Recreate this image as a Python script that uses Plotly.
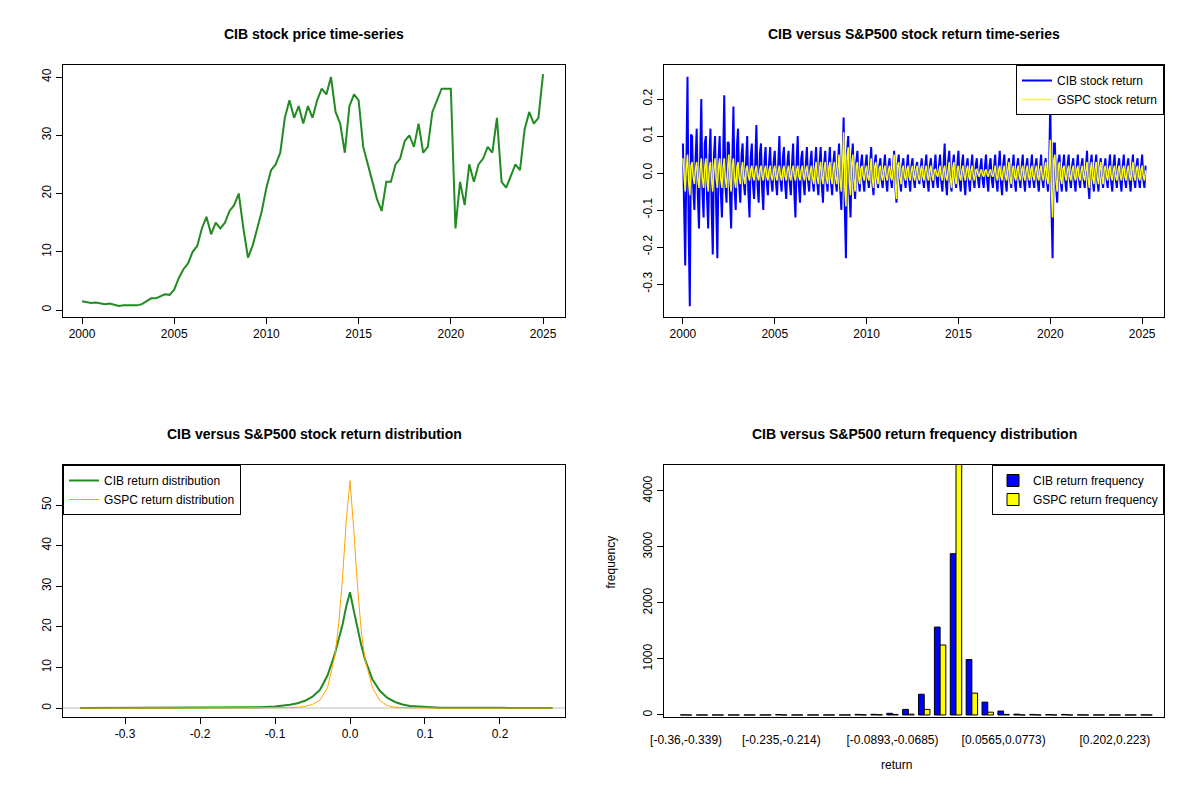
import plotly.graph_objects as go

# ---------- data ----------
years_q = [2000 + i * 0.25 for i in range(101)]
cib_price = [1.5,1.3,1.2,1.3, 1.2,1.0,1.1,0.9, 0.7,0.8,0.8,0.9, 0.8,1.0,1.5,2.0,
             2.0,2.3,2.7,2.6, 3.5,5.5,7.0,8.0, 10,11,14,16, 13,15,14,15,
             17,18,20,14, 9,11,14,17, 21,24,25,27, 33,36,33,35, 32,35,33,36,
             38,37,40,34, 32,27,35,37, 36,28,25,22, 19,17,22,22, 25,26,29,30,
             28,32,27,28, 34,36,38,38, 38,14,22,18, 25,22,25,26, 28,27,33,22,
             21,23,25,24, 31,34,32,33, 40.5]
# quarterly extremes of daily returns, 2000Q1 .. 2025Q1
cib_hi = [0.08,0.26,0.10,0.12,  0.20,0.10,0.12,0.10,  0.10,0.21,0.08,0.18,  0.12,0.08,0.10,0.08,
          0.13,0.08,0.07,0.07,  0.06,0.10,0.07,0.06,  0.08,0.10,0.06,0.07,  0.06,0.07,0.07,0.06,
          0.07,0.06,0.08,0.15,  0.10,0.08,0.06,0.05,  0.05,0.07,0.05,0.04,  0.05,0.04,0.06,0.05,
          0.04,0.05,0.04,0.03,  0.04,0.05,0.04,0.05,  0.05,0.08,0.06,0.05,  0.06,0.05,0.04,0.05,
          0.04,0.04,0.05,0.04,  0.05,0.06,0.05,0.04,  0.05,0.04,0.05,0.04,  0.05,0.04,0.05,0.04,
          0.20,0.08,0.05,0.05,
          0.05,0.04,0.05,0.04,  0.06,0.05,0.05,0.04,  0.04,0.05,0.05,0.04,  0.05,0.04,0.05,0.04,
          0.05]
cib_lo = [-0.25,-0.36,-0.10,-0.15,  -0.12,-0.15,-0.22,-0.23,  -0.12,-0.08,-0.15,-0.10,  -0.08,-0.06,-0.12,-0.07,
          -0.08,-0.10,-0.06,-0.05,  -0.06,-0.05,-0.07,-0.06,  -0.12,-0.08,-0.06,-0.05,  -0.05,-0.06,-0.08,-0.05,
          -0.06,-0.05,-0.10,-0.23,  -0.12,-0.07,-0.05,-0.05,  -0.04,-0.06,-0.04,-0.04,  -0.05,-0.04,-0.08,-0.05,
          -0.04,-0.05,-0.04,-0.03,  -0.04,-0.05,-0.04,-0.04,  -0.05,-0.06,-0.05,-0.04,  -0.05,-0.06,-0.05,-0.04,
          -0.04,-0.04,-0.05,-0.04,  -0.05,-0.06,-0.05,-0.04,  -0.05,-0.04,-0.05,-0.04,  -0.04,-0.05,-0.04,-0.05,
          -0.23,-0.08,-0.05,-0.05,
          -0.04,-0.05,-0.04,-0.04,  -0.07,-0.05,-0.05,-0.04,  -0.04,-0.05,-0.04,-0.05,  -0.04,-0.05,-0.04,-0.04,
          -0.04]
gspc_hi = [0.04,0.05,0.03,0.03,  0.04,0.04,0.03,0.04,  0.04,0.04,0.05,0.04,  0.03,0.03,0.02,0.02,
           0.02,0.02,0.02,0.02,  0.02,0.02,0.02,0.02,  0.02,0.02,0.02,0.02,  0.02,0.03,0.03,0.03,
           0.03,0.03,0.05,0.11,  0.07,0.05,0.03,0.02,  0.02,0.04,0.03,0.02,  0.02,0.02,0.05,0.03,
           0.02,0.02,0.02,0.02,  0.02,0.02,0.02,0.01,  0.02,0.02,0.03,0.03,  0.02,0.02,0.02,0.02,
           0.01,0.01,0.01,0.01,  0.02,0.02,0.02,0.03,  0.02,0.02,0.02,0.02,  0.02,0.02,0.02,0.03,
           0.09,0.05,0.03,0.02,
           0.02,0.02,0.02,0.02,  0.03,0.03,0.03,0.03,  0.02,0.02,0.02,0.02,  0.02,0.02,0.03,0.02,
           0.02]
gspc_lo = [-0.05,-0.06,-0.03,-0.04,  -0.04,-0.05,-0.05,-0.04,  -0.04,-0.04,-0.05,-0.04,  -0.03,-0.03,-0.02,-0.02,
           -0.02,-0.02,-0.02,-0.02,  -0.02,-0.02,-0.02,-0.02,  -0.02,-0.02,-0.02,-0.02,  -0.03,-0.03,-0.03,-0.03,
           -0.03,-0.03,-0.05,-0.09,  -0.06,-0.05,-0.03,-0.02,  -0.02,-0.04,-0.03,-0.02,  -0.02,-0.02,-0.07,-0.03,
           -0.02,-0.02,-0.02,-0.02,  -0.02,-0.02,-0.02,-0.01,  -0.02,-0.02,-0.04,-0.03,  -0.02,-0.02,-0.02,-0.02,
           -0.01,-0.01,-0.01,-0.01,  -0.02,-0.02,-0.02,-0.03,  -0.02,-0.02,-0.02,-0.02,  -0.02,-0.02,-0.02,-0.03,
           -0.12,-0.05,-0.03,-0.02,
           -0.02,-0.02,-0.02,-0.02,  -0.04,-0.03,-0.03,-0.03,  -0.02,-0.02,-0.02,-0.02,  -0.02,-0.02,-0.02,-0.02,
           -0.02]

dens_x = [-0.36,-0.2,-0.12,-0.1,-0.08,-0.07,-0.06,-0.05,-0.04,-0.03,-0.02,-0.015,-0.01,-0.005,0.0,
          0.005,0.01,0.015,0.02,0.03,0.04,0.05,0.06,0.07,0.08,0.1,0.12,0.2,0.27]
cib_dens = [0.0,0.05,0.2,0.4,0.8,1.2,1.8,2.8,4.5,8.0,13.5,17.0,20.5,25.0,28.5,
            24.0,19.5,15.5,12.0,7.0,4.2,2.5,1.5,0.9,0.5,0.3,0.1,0.05,0.0]
gspc_dens = [0.0,0.0,0.0,0.05,0.1,0.2,0.4,0.9,2.0,5.0,13.0,21.0,32.0,46.0,56.0,
             44.0,30.0,19.0,12.0,5.0,1.8,0.6,0.2,0.1,0.05,0.0,0.0,0.0,0.0]

hist_bin = list(range(30))
cib_freq = [2,0,0,0,0,0,8,0,0,0,0,10,12,30,100,370,1570,2880,990,230,70,15,10,8,10,2,0,0,0,2]
gspc_freq = [0,0,0,0,0,0,0,0,0,0,0,2,5,10,15,100,1250,4500,390,50,10,2,2,2,0,0,0,0,0,0]
hist_tickpos = [0, 6, 13, 20, 27]
hist_ticklabels = ["[-0.36,-0.339)", "[-0.235,-0.214)", "[-0.0893,-0.0685)", "[0.0565,0.0773)", "[0.202,0.223)"]

# ---------- figure ----------
OX, OY = 10, 9   # page offset of the rendered figure
def px(x): return (x - OX) / 1200
def py(y): return 1 - (y - OY) / 800

fig = go.Figure()
xd1, xd2 = [px(65), px(567)], [px(666), px(1166)]
yd_top, yd_bot = [py(318), py(66)], [py(718), py(466)]

fig.add_trace(go.Scatter(x=years_q, y=cib_price, mode="lines", line=dict(color="#228B22", width=2),
                         showlegend=False, xaxis="x", yaxis="y"))

def zig(xs, hi, lo):
    X, Y = [], []
    for t, h, l in zip(xs, hi, lo):
        X += [t, t + 0.06, t + 0.125, t + 0.19]
        Y += [h, l * 0.4, l, h * 0.4]
    return X, Y

X, Y = zig(years_q, cib_hi, cib_lo)
fig.add_trace(go.Scatter(x=X, y=Y, mode="lines", line=dict(color="blue", width=2), name="CIB stock return",
                         xaxis="x2", yaxis="y2", legend="legend"))
X, Y = zig(years_q, gspc_hi, gspc_lo)
fig.add_trace(go.Scatter(x=X, y=Y, mode="lines", line=dict(color="yellow", width=1.5), name="GSPC stock return",
                         xaxis="x2", yaxis="y2", legend="legend"))

fig.add_trace(go.Scatter(x=[-0.3827, 0.2867], y=[0, 0], mode="lines", line=dict(color="#BEBEBE", width=1),
                         showlegend=False, xaxis="x3", yaxis="y3"))
fig.add_trace(go.Scatter(x=dens_x, y=cib_dens, mode="lines", line=dict(color="#228B22", width=2),
                         name="CIB return distribution", xaxis="x3", yaxis="y3", legend="legend2"))
fig.add_trace(go.Scatter(x=dens_x, y=gspc_dens, mode="lines", line=dict(color="orange", width=1),
                         name="GSPC return distribution", xaxis="x3", yaxis="y3", legend="legend2"))

fig.add_trace(go.Bar(x=hist_bin, y=cib_freq, marker=dict(color="blue", line=dict(color="black", width=1)),
                     name="CIB return frequency", xaxis="x4", yaxis="y4", legend="legend3"))
fig.add_trace(go.Bar(x=hist_bin, y=gspc_freq, marker=dict(color="yellow", line=dict(color="black", width=1)),
                     name="GSPC return frequency", xaxis="x4", yaxis="y4", legend="legend3"))

ax = dict(showgrid=False, zeroline=False, showline=True, linecolor="black", mirror=True, ticks="outside",
          ticklen=6, tickcolor="black", tickfont=dict(size=12, color="black"), automargin=False)
fig.update_layout(
    width=1200, height=800, margin=dict(l=0, r=0, t=0, b=0),
    paper_bgcolor="white", plot_bgcolor="white",
    font=dict(family="Liberation Sans, Arial", color="black"),
    barmode="group", bargap=0.28, bargroupgap=0,
    xaxis=dict(ax, domain=xd1, anchor="y", range=[1998.97, 2026.19], tickvals=[2000,2005,2010,2015,2020,2025]),
    yaxis=dict(ax, domain=yd_top, anchor="x", range=[-1.2, 42.06], tickvals=[0,10,20,30,40], tickangle=-90),
    xaxis2=dict(ax, domain=xd2, anchor="y2", range=[1998.97, 2026.19], tickvals=[2000,2005,2010,2015,2020,2025]),
    yaxis2=dict(ax, domain=yd_top, anchor="x2", range=[-0.389, 0.292], tickvals=[-0.3,-0.2,-0.1,0,0.1,0.2],
                ticktext=["-0.3","-0.2","-0.1","0.0","0.1","0.2"], tickangle=-90),
    xaxis3=dict(ax, domain=xd1, anchor="y3", range=[-0.3827, 0.2867], tickvals=[-0.3,-0.2,-0.1,0,0.1,0.2],
                ticktext=["-0.3","-0.2","-0.1","0.0","0.1","0.2"]),
    yaxis3=dict(ax, domain=yd_bot, anchor="x3", range=[-2.2, 59.85], tickvals=[0,10,20,30,40,50], tickangle=-90),
    xaxis4=dict(ax, domain=xd2, anchor="y4", range=[-1.39, 30.1], tickvals=hist_tickpos, ticktext=hist_ticklabels,
                ticks="outside", ticklen=12, tickcolor="rgba(0,0,0,0)"),
    yaxis4=dict(ax, domain=yd_bot, anchor="x4", range=[-36, 4464], tickvals=[0,1000,2000,3000,4000], tickangle=-90),
    legend=dict(x=px(1166), xanchor="right", y=py(66), yanchor="top", bgcolor="white",
                bordercolor="black", borderwidth=1, font=dict(size=12)),
    legend2=dict(x=px(65), xanchor="left", y=py(466), yanchor="top", bgcolor="white",
                 bordercolor="black", borderwidth=1, font=dict(size=12)),
    legend3=dict(x=px(1166), xanchor="right", y=py(466), yanchor="top", bgcolor="white",
                 bordercolor="black", borderwidth=1, font=dict(size=12)),
)
titles = [("CIB stock price time-series", 316, 35), ("CIB versus S&P500 stock return time-series", 916, 35),
          ("CIB versus S&P500 stock return distribution", 316, 435), ("CIB versus S&P500 return frequency distribution", 916, 435)]
for t, x, y in titles:
    fig.add_annotation(text="<b>%s</b>" % t.replace("&", "&amp;"), x=px(x), y=py(y), xref="paper", yref="paper",
                       showarrow=False, font=dict(size=14, color="black"), xanchor="center", yanchor="middle")
fig.add_annotation(text="return", x=px(916), y=py(775), xref="paper", yref="paper", showarrow=False,
                   font=dict(size=12))
fig.add_annotation(text="frequency", x=px(612), y=py(592), xref="paper", yref="paper", showarrow=False,
                   textangle=-90, font=dict(size=12))
fig.write_html("out.html")
